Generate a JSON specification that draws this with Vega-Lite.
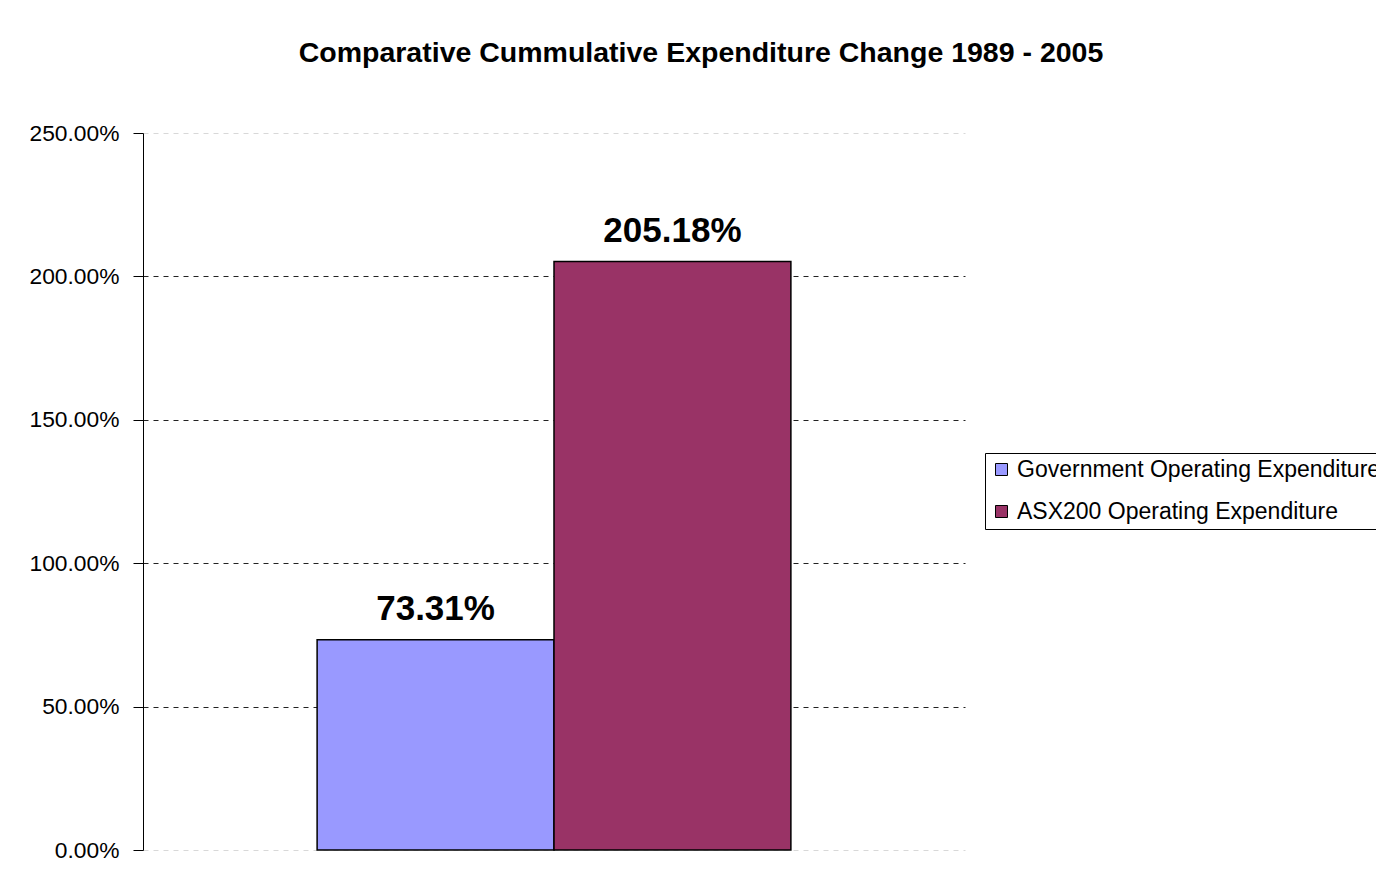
{
  "$schema": "https://vega.github.io/schema/vega-lite/v6.json",
  "width": 822,
  "height": 717,
  "autosize": "none",
  "padding": {"left": 143, "top": 133, "right": 411, "bottom": 32},
  "background": "white",
  "config": {
    "font": "Liberation Sans",
    "view": {"stroke": null}
  },
  "title": {
    "text": "Comparative Cummulative Expenditure Change 1989 - 2005",
    "font": "Liberation Sans",
    "fontSize": 28.5,
    "fontWeight": "bold",
    "color": "black",
    "anchor": "middle",
    "dx": 147,
    "offset": 55
  },
  "data": {
    "values": [
      {"series": "Government Operating Expenditure", "value": 0.7331},
      {"series": "ASX200 Operating Expenditure", "value": 2.0518}
    ]
  },
  "encoding": {
    "x": {
      "field": "series",
      "type": "nominal",
      "sort": null,
      "scale": {"paddingInner": 0, "paddingOuter": 0.735},
      "axis": null
    },
    "y": {
      "field": "value",
      "type": "quantitative",
      "scale": {"domain": [0, 2.5], "nice": false},
      "axis": {
        "title": null,
        "values": [0, 0.5, 1, 1.5, 2, 2.5],
        "format": ".2%",
        "labelFont": "Liberation Sans",
        "labelFontSize": 22.8,
        "labelColor": "black",
        "labelPadding": 14,
        "tickSize": 10,
        "tickColor": "black",
        "domainColor": "black",
        "grid": true,
        "gridDash": [5, 5],
        "gridColor": {"condition": {"test": "datum.value === 0 || datum.value === 2.5", "value": "#d8d8d8"}, "value": "#222222"},
        "gridOpacity": 1
      }
    }
  },
  "layer": [
    {
      "mark": {"type": "bar", "stroke": "black", "strokeWidth": 1.5},
      "encoding": {
        "color": {
          "field": "series",
          "type": "nominal",
          "sort": null,
          "scale": {
            "domain": ["Government Operating Expenditure", "ASX200 Operating Expenditure"],
            "range": ["#9999FF", "#993366"]
          },
          "legend": {
            "title": null,
            "orient": "none",
            "legendX": 842,
            "legendY": 320,
            "labelFont": "Liberation Sans",
            "labelFontSize": 23,
            "labelColor": "black",
            "labelLimit": 600,
            "labelOffset": 4,
            "symbolType": "square",
            "symbolSize": 144,
            "symbolStrokeColor": "black",
            "symbolStrokeWidth": 1,
            "rowPadding": 18,
            "padding": 5,
            "strokeColor": "black",
            "fillColor": "white"
          }
        }
      }
    },
    {
      "mark": {
        "type": "text",
        "font": "Liberation Sans",
        "fontSize": 35,
        "fontWeight": "bold",
        "color": "black",
        "baseline": "alphabetic",
        "dy": -20
      },
      "encoding": {
        "text": {"field": "value", "type": "quantitative", "format": ".2%"}
      }
    }
  ]
}
